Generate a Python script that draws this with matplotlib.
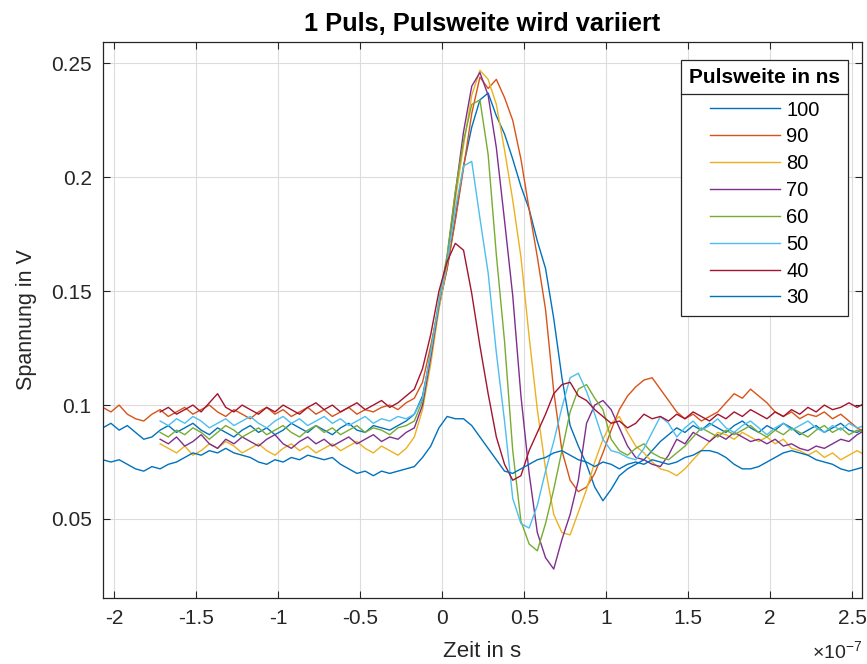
import numpy as np
import matplotlib
matplotlib.use("Agg")
import matplotlib.pyplot as plt
from matplotlib.ticker import FuncFormatter
from matplotlib.lines import Line2D

# -----------------------------
# DATA (5 ns steps, time in units of 1e-7 s)
# -----------------------------
T_START = -2.07
T_STEP = 0.05
N_SAMPLES = 94

nan = np.nan

PULSE_WIDTHS = ["100", "90", "80", "70", "60", "50", "40", "30"]
COLORS = ["#0072BD", "#D95319", "#EDB120", "#7E2F8E", "#77AC30", "#4DBEEE", "#A2142F", "#0072BD"]

v100 = [0.090, 0.092, 0.089, 0.091, 0.088, 0.085, 0.086, 0.089, 0.091, 0.088,
        0.090, 0.092, 0.089, 0.087, 0.090, 0.088, 0.086, 0.089, 0.091, 0.088,
        0.090, 0.087, 0.089, 0.092, 0.090, 0.088, 0.091, 0.089, 0.087, 0.090,
        0.092, 0.089, 0.088, 0.091, 0.090, 0.089, 0.091, 0.093, 0.096, 0.104,
        0.122, 0.143, 0.160, 0.182, 0.205, 0.222, 0.234, 0.237, 0.227, 0.219,
        0.208, 0.196, 0.186, 0.172, 0.160, 0.138, 0.112, 0.091, 0.082, 0.074,
        0.064, 0.058, 0.063, 0.069, 0.072, 0.074, 0.076, 0.080, 0.084, 0.087,
        0.090, 0.088, 0.091, 0.089, 0.092, 0.090, 0.088, 0.091, 0.093, 0.090,
        0.088, 0.091, 0.089, 0.092, 0.090, 0.087, 0.089, 0.091, 0.088, 0.090,
        0.092, 0.089, 0.088, 0.090]

v90 = [0.099, 0.097, 0.100, 0.096, 0.094, 0.093, 0.096, 0.098, 0.095, 0.097,
       0.099, 0.096, 0.098, 0.100, 0.097, 0.095, 0.098, 0.096, 0.094, 0.097,
       0.099, 0.096, 0.098, 0.095, 0.097, 0.099, 0.096, 0.098, 0.095, 0.097,
       0.099, 0.096, 0.098, 0.097, 0.099, 0.100, 0.098, 0.101, 0.103, 0.110,
       0.126, 0.144, 0.160, 0.181, 0.204, 0.228, 0.244, 0.239, 0.243, 0.235,
       0.225, 0.208, 0.186, 0.165, 0.142, 0.106, 0.080, 0.067, 0.062, 0.064,
       0.070, 0.079, 0.089, 0.098, 0.104, 0.108, 0.111, 0.112, 0.107, 0.102,
       0.097, 0.094, 0.096, 0.093, 0.095, 0.097, 0.101, 0.105, 0.103, 0.107,
       0.104, 0.101, 0.097, 0.095, 0.097, 0.094, 0.096, 0.095, 0.097, 0.094,
       0.096, 0.093, 0.090, 0.088]

v80 = [nan, nan, nan, nan, nan, nan, nan, 0.083, 0.081, 0.079,
       0.082, 0.078, 0.080, 0.083, 0.081, 0.084, 0.082, 0.079, 0.081, 0.083,
       0.080, 0.078, 0.081, 0.083, 0.080, 0.082, 0.079, 0.081, 0.083, 0.080,
       0.082, 0.084, 0.081, 0.079, 0.082, 0.080, 0.078, 0.081, 0.086, 0.098,
       0.118, 0.142, 0.162, 0.190, 0.214, 0.236, 0.247, 0.243, 0.232, 0.212,
       0.190, 0.165, 0.130, 0.098, 0.072, 0.052, 0.044, 0.043, 0.053, 0.063,
       0.075, 0.085, 0.092, 0.095, 0.088, 0.082, 0.079, 0.075, 0.072, 0.071,
       0.069, 0.072, 0.076, 0.080, 0.084, 0.088, 0.087, 0.085, 0.088, 0.086,
       0.084, 0.086, 0.083, 0.085, 0.081, 0.080, 0.078, 0.080, 0.077, 0.079,
       0.076, 0.078, 0.080, 0.078]

v70 = [nan, nan, nan, nan, nan, nan, nan, 0.085, 0.083, 0.086,
       0.082, 0.084, 0.087, 0.083, 0.081, 0.085, 0.083, 0.086, 0.084, 0.082,
       0.085, 0.087, 0.083, 0.081, 0.084, 0.086, 0.083, 0.085, 0.082, 0.084,
       0.086, 0.083, 0.085, 0.087, 0.084, 0.086, 0.085, 0.088, 0.090, 0.100,
       0.121, 0.144, 0.165, 0.193, 0.220, 0.240, 0.246, 0.236, 0.213, 0.181,
       0.148, 0.104, 0.070, 0.044, 0.033, 0.028, 0.041, 0.052, 0.067, 0.092,
       0.100, 0.102, 0.098, 0.090, 0.082, 0.077, 0.076, 0.074, 0.073, 0.078,
       0.085, 0.083, 0.088, 0.086, 0.084, 0.087, 0.085, 0.088, 0.086, 0.084,
       0.085, 0.083, 0.085, 0.082, 0.083, 0.081, 0.080, 0.082, 0.081, 0.083,
       0.085, 0.084, 0.087, 0.089]

v60 = [nan, nan, nan, nan, nan, nan, nan, 0.088, 0.086, 0.089,
       0.087, 0.090, 0.088, 0.085, 0.088, 0.091, 0.089, 0.086, 0.088, 0.090,
       0.087, 0.089, 0.091, 0.088, 0.086, 0.089, 0.091, 0.088, 0.090, 0.087,
       0.089, 0.091, 0.088, 0.090, 0.089, 0.087, 0.090, 0.091, 0.093, 0.102,
       0.124, 0.146, 0.166, 0.194, 0.216, 0.232, 0.234, 0.210, 0.166, 0.128,
       0.080, 0.049, 0.039, 0.036, 0.048, 0.063, 0.080, 0.097, 0.107, 0.109,
       0.103, 0.098, 0.085, 0.080, 0.078, 0.081, 0.083, 0.079, 0.077, 0.076,
       0.079, 0.082, 0.086, 0.090, 0.088, 0.086, 0.089, 0.087, 0.089, 0.091,
       0.088, 0.086, 0.089, 0.087, 0.090, 0.088, 0.086, 0.089, 0.091, 0.088,
       0.090, 0.087, 0.089, 0.088]

v50 = [nan, nan, nan, nan, nan, nan, nan, 0.093, 0.091, 0.094,
       0.092, 0.095, 0.093, 0.090, 0.092, 0.094, 0.091, 0.093, 0.095, 0.092,
       0.090, 0.093, 0.095, 0.092, 0.094, 0.091, 0.093, 0.095, 0.092, 0.094,
       0.091, 0.093, 0.095, 0.092, 0.094, 0.093, 0.095, 0.094, 0.096, 0.103,
       0.123, 0.145, 0.163, 0.186, 0.205, 0.207, 0.182, 0.158, 0.123, 0.093,
       0.059, 0.048, 0.046, 0.056, 0.071, 0.084, 0.099, 0.112, 0.114, 0.106,
       0.096, 0.085, 0.080, 0.079, 0.077, 0.076, 0.081, 0.088, 0.095, 0.092,
       0.086, 0.090, 0.093, 0.089, 0.091, 0.094, 0.090, 0.088, 0.091, 0.093,
       0.090, 0.087, 0.090, 0.092, 0.089, 0.091, 0.093, 0.090, 0.088, 0.091,
       0.089, 0.092, 0.090, 0.091]

v40 = [nan, nan, nan, nan, nan, nan, nan, 0.097, 0.099, 0.096,
       0.098, 0.100, 0.097, 0.101, 0.105, 0.099, 0.097, 0.100, 0.098, 0.096,
       0.099, 0.097, 0.100, 0.098, 0.096, 0.099, 0.101, 0.098, 0.100, 0.097,
       0.099, 0.101, 0.098, 0.100, 0.102, 0.099, 0.101, 0.104, 0.107, 0.116,
       0.131, 0.150, 0.163, 0.171, 0.168, 0.149, 0.126, 0.105, 0.086, 0.074,
       0.067, 0.069, 0.080, 0.088, 0.096, 0.105, 0.109, 0.110, 0.104, 0.102,
       0.098, 0.095, 0.092, 0.093, 0.090, 0.092, 0.096, 0.094, 0.095, 0.093,
       0.096, 0.094, 0.097, 0.095, 0.093, 0.096, 0.094, 0.097, 0.095, 0.098,
       0.096, 0.094, 0.097, 0.095, 0.098, 0.096, 0.099, 0.097, 0.100, 0.098,
       0.099, 0.101, 0.099, 0.101]

v30 = [0.076, 0.075, 0.076, 0.074, 0.072, 0.071, 0.073, 0.072, 0.074, 0.075,
       0.077, 0.079, 0.078, 0.080, 0.079, 0.081, 0.079, 0.078, 0.077, 0.075,
       0.074, 0.076, 0.075, 0.077, 0.076, 0.078, 0.077, 0.076, 0.077, 0.074,
       0.072, 0.070, 0.071, 0.069, 0.071, 0.070, 0.071, 0.072, 0.073, 0.077,
       0.082, 0.090, 0.095, 0.094, 0.094, 0.091, 0.086, 0.081, 0.076, 0.071,
       0.070, 0.072, 0.074, 0.076, 0.077, 0.079, 0.080, 0.078, 0.076, 0.075,
       0.073, 0.075, 0.074, 0.072, 0.074, 0.075, 0.074, 0.076, 0.075, 0.074,
       0.075, 0.077, 0.078, 0.080, 0.080, 0.079, 0.077, 0.074, 0.072, 0.072,
       0.073, 0.075, 0.077, 0.079, 0.080, 0.079, 0.078, 0.076, 0.075, 0.074,
       0.072, 0.071, 0.072, 0.073]

SERIES = [v100, v90, v80, v70, v60, v50, v40, v30]

X_TICKS = [-2, -1.5, -1, -0.5, 0, 0.5, 1, 1.5, 2, 2.5]
Y_TICKS = [0.05, 0.1, 0.15, 0.2, 0.25]


def main():
    plt.rcParams["font.family"] = ["Liberation Sans", "DejaVu Sans"]
    plt.rcParams["axes.unicode_minus"] = False
    plt.rcParams["mathtext.fontset"] = "custom"
    plt.rcParams["mathtext.rm"] = "Liberation Sans"

    t = T_START + T_STEP * np.arange(N_SAMPLES)

    fig = plt.figure(figsize=(8.67, 6.64), dpi=100)
    ax = fig.add_axes([0.1185, 0.0994, 0.8758, 0.8373])

    for label, color, y in zip(PULSE_WIDTHS, COLORS, SERIES):
        ax.plot(t, y, color=color, lw=1.0, label=label)

    ax.set_xlim(-2.07, 2.56)
    ax.set_ylim(0.0153, 0.2594)
    ax.set_xticks(X_TICKS)
    ax.set_yticks(Y_TICKS)
    fmt = FuncFormatter(lambda v, pos: "%g" % v)
    ax.xaxis.set_major_formatter(fmt)
    ax.yaxis.set_major_formatter(fmt)

    ax.grid(True, color="#dcdcdc", lw=0.8)
    ax.set_axisbelow(True)
    for sp in ax.spines.values():
        sp.set_color("#262626")
        sp.set_linewidth(0.9)
    ax.tick_params(direction="in", length=5, width=0.8, color="#262626",
                   top=True, right=True, labelsize=15, labelcolor="#262626", pad=8)

    ax.set_title("1 Puls, Pulsweite wird variiert", fontsize=18.3, fontweight="bold",
                 color="black", pad=8)
    ax.set_xlabel("Zeit in s", fontsize=16, color="#262626", labelpad=9)
    ax.set_ylabel("Spannung in V", fontsize=15.5, color="#262626", labelpad=10)

    fig.text(0.995, 0.003, r"$\mathregular{\times10^{-7}}$", ha="right", va="bottom",
             fontsize=14, color="#262626")

    leg = ax.legend(loc="upper right", bbox_to_anchor=(0.9816, 0.9676), borderaxespad=0,
                    title="Pulsweite in ns", fontsize=14.5, title_fontsize=15,
                    fancybox=False, framealpha=1, edgecolor="#262626",
                    handlelength=3.5, handletextpad=0.3, labelspacing=0.39,
                    borderpad=0.4)
    leg.get_title().set_fontweight("bold")
    leg.get_frame().set_linewidth(0.9)
    # a bit more room between the title and the entries
    leg._legend_box.sep = 0.39 * 14.5 + 4

    # separator line under the legend title, like MATLAB
    fig.canvas.draw()
    r = fig.canvas.get_renderer()
    tb = leg.get_title().get_window_extent(r)
    lb = leg.get_window_extent(r)
    first = leg.get_texts()[0].get_window_extent(r)
    ysep = (tb.y0 + first.y1) / 2
    W, H = fig.bbox.width, fig.bbox.height
    fig.add_artist(Line2D([lb.x0 / W, lb.x1 / W], [ysep / H, ysep / H],
                          transform=fig.transFigure, color="#262626", lw=0.9))

    fig.savefig("out.png", dpi=100)


if __name__ == "__main__":
    main()
